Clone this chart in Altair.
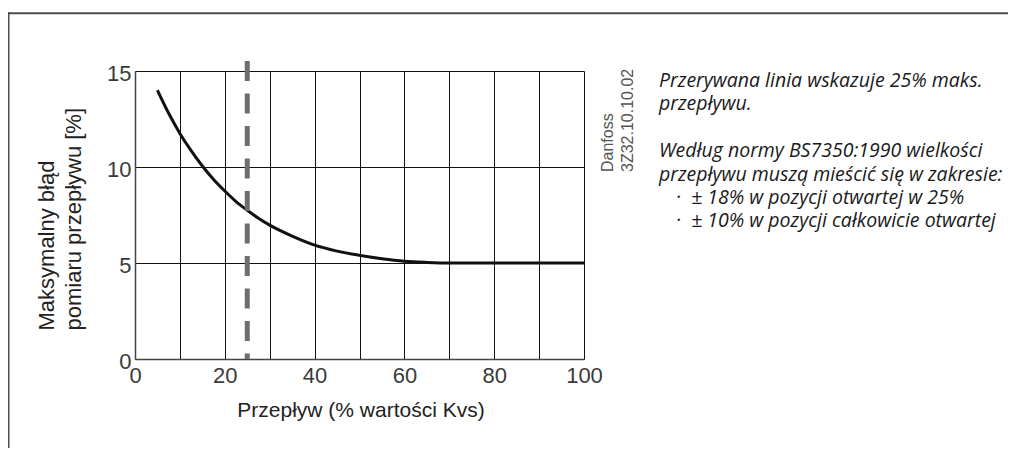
import altair as alt
import pandas as pd

# ---- data ----
flow = [5, 7.5, 10, 12.5, 15, 17.5, 20, 22.5, 25, 27.5, 30, 35, 40, 45, 50, 55, 60, 65, 70, 80, 90, 100]
max_error = [14.0, 12.8, 11.75, 10.85, 10.05, 9.35, 8.75, 8.2, 7.75, 7.33, 6.97, 6.4, 5.93, 5.62, 5.4, 5.22, 5.09, 5.03, 5.0, 5.0, 5.0, 5.0]
marker_flow = [25]
x_ticks = [0, 10, 20, 30, 40, 50, 60, 70, 80, 90, 100]
y_ticks = [0, 5, 10, 15]

x_title = "Przepływ (% wartości Kvs)"
y_title = ["Maksymalny błąd", "pomiaru przepływu [%]"]
code_lines = ["Danfoss", "3Z32.10.10.02"]
NB = "\u00a0"
note_para1 = [
    "Przerywana linia wskazuje 25% maks.",
    "przepływu.",
]
note_para2 = [
    "Według normy BS7350:1990 wielkości",
    "przepływu muszą mieścić się w zakresie:",
]
note_bullets = [
    "·" + NB * 2 + "± 18% w pozycji otwartej w 25%",
    "·" + NB * 2 + "± 10% w pozycji całkowicie otwartej",
]

W, H = 449, 288

df = pd.DataFrame({"flow": flow, "err": max_error})
df_mark = pd.DataFrame({"flow": marker_flow})

x_enc = alt.X(
    "flow:Q",
    scale=alt.Scale(domain=[0, 100], nice=False),
    axis=alt.Axis(
        values=x_ticks,
        labelExpr="datum.value % 20 == 0 ? datum.label : ''",
        labelFlush=False,
        title=x_title,
        titleFontSize=21,
        titleX=W / 2 + 1,
        titleY=57,
        titleBaseline="alphabetic",
        titleAlign="center",
        labelPadding=6,
    ),
)
y_enc = alt.Y(
    "err:Q",
    scale=alt.Scale(domain=[0, 15], nice=False),
    axis=alt.Axis(
        values=y_ticks,
        labelFlush=False,
        title=y_title,
        titleAngle=270,
        titleAlign="left",
        titleBaseline="alphabetic",
        titleX=-82,
        titleY=259,
        titleLineHeight=27,
        labelPadding=4,
        labelOffset=2,
    ),
)

curve = alt.Chart(df).mark_line(color="#111111", strokeWidth=3, interpolate="monotone").encode(
    x=x_enc, y=y_enc
)

dashed = alt.Chart(df_mark).mark_rule(
    color="#6e6e6e", strokeWidth=5, strokeDash=[20, 12.5]
).encode(x="flow:Q", y=alt.value(-10), y2=alt.value(H))

code_text = alt.Chart(df_mark).mark_text(
    text=code_lines,
    angle=270,
    align="left",
    baseline="alphabetic",
    font="Liberation Sans",
    fontSize=16,
    lineHeight=20,
    color="#555555",
).encode(x=alt.value(478), y=alt.value(101))

note_style = dict(
    align="left",
    baseline="alphabetic",
    font="Open Sans",
    fontStyle="italic",
    fontSize=19.5,
    lineHeight=23.5,
    color="#1a1a1a",
)
note1 = alt.Chart(df_mark).mark_text(text=note_para1, **note_style).encode(
    x=alt.value(524), y=alt.value(15.7)
)
note2 = alt.Chart(df_mark).mark_text(text=note_para2, **note_style).encode(
    x=alt.value(524), y=alt.value(86)
)
note3 = alt.Chart(df_mark).mark_text(text=note_bullets, **note_style).encode(
    x=alt.value(541), y=alt.value(132.8)
)

frame_top = alt.Chart(df_mark).mark_rule(color="#4d4d4d", strokeWidth=2).encode(
    x=alt.value(-130), x2=alt.value(873), y=alt.value(-57.7)
)
frame_left = alt.Chart(df_mark).mark_rule(color="#4d4d4d", strokeWidth=2).encode(
    x=alt.value(-126.5), y=alt.value(-58.7), y2=alt.value(400)
)

chart = alt.layer(curve, dashed, code_text, note1, note2, note3, frame_top, frame_left).properties(
    width=W,
    height=H,
    autosize=alt.AutoSizeParams(type="none"),
    padding={"left": 127, "top": 63, "right": 424, "bottom": 89},
    background="white",
).configure_view(strokeWidth=0).configure_axis(
    grid=True,
    gridColor="#111111",
    gridWidth=1,
    domainColor="#444444",
    domainWidth=1.5,
    ticks=False,
    labelFont="Liberation Sans",
    labelFontSize=22,
    labelColor="#3a3a3a",
    titleFont="Liberation Sans",
    titleFontSize=22,
    titleFontWeight="normal",
    titleColor="#222222",
)

chart.save("out.html", embed_options={"renderer": "svg", "actions": False})
